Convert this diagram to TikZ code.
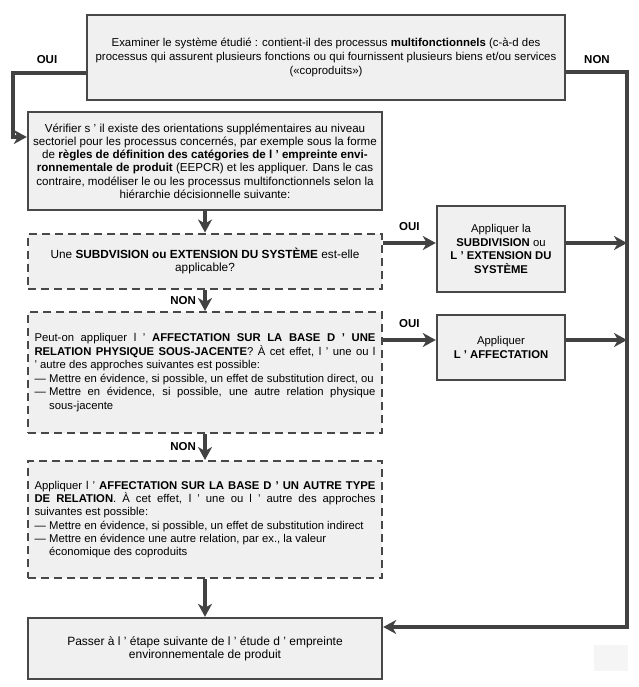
\documentclass[tikz,border=0pt]{standalone}
\usepackage{fontspec}
\setmainfont{Liberation Sans}
\usetikzlibrary{arrows.meta}
\definecolor{boxcolor}{RGB}{240,240,240}
\definecolor{edgecolor}{RGB}{72,72,72}
\definecolor{flowcolor}{RGB}{66,66,66}
\newcommand{\dashitem}[1]{\par\noindent\makebox[1.3em][l]{—}\parbox[t]{\dimexpr341pt-1.3em\relax}{#1}}

\begin{document}
\begin{tikzpicture}[x=1pt, y=-1pt,
    box/.style={rectangle, draw=edgecolor, line width=2.4pt, fill=boxcolor, inner sep=0pt, align=center, font=\fontsize{11.8}{13.4}\selectfont},
    dbox/.style={box, line width=2pt, dash pattern=on 8pt off 5pt, minimum width=354pt},
    arrow/.style={-{Stealth[length=13pt, width=14pt, inset=4pt]}, line width=3.6pt, draw=flowcolor},
    tag/.style={font=\fontsize{11.5}{12}\selectfont\bfseries}
]
\useasboundingbox (0,0) rectangle (638,687);
\fill[black!4] (594,645) rectangle (628,671);

\node[box, minimum width=478pt, minimum height=85pt, font=\fontsize{11.4}{13.6}\selectfont] (examine) at (326,57.5) {Examiner le système étudié : contient-il des processus \textbf{multifonctionnels} (c-à-d des\\processus qui assurent plusieurs fonctions ou qui fournissent plusieurs biens et/ou services\\(«coproduits»)};
\node[box, minimum width=354pt, minimum height=98pt, font=\fontsize{11.6}{13.2}\selectfont] (verify) at (205,161) {Vérifier s ' il existe des orientations supplémentaires au niveau\\sectoriel pour les processus concernés, par exemple sous la forme\\de \textbf{règles de définition des catégories de l ' empreinte envi-}\\\textbf{ronnementale de produit} (EEPCR) et les appliquer. Dans le cas\\contraire, modéliser le ou les processus multifonctionnels selon la\\hiérarchie décisionnelle suivante:};
\node[dbox, minimum height=55pt] (subdiv) at (205,261) {Une \textbf{SUBDVISION ou EXTENSION DU SYSTÈME} est-elle\\applicable?};
\node[dbox, minimum height=121pt, text width=341pt, align=justify, font=\fontsize{11.3}{13.6}\selectfont] (physrel) at (205,372.5) {Peut-on appliquer l ' \textbf{AFFECTATION SUR LA BASE D ' UNE}\linebreak\textbf{RELATION PHYSIQUE SOUS-JACENTE}? À cet effet, l ' une ou l\linebreak ' autre des approches suivantes est possible:
\dashitem{Mettre en évidence, si possible, un effet de substitution direct, ou}
\dashitem{Mettre en évidence, si possible, une autre relation physique\linebreak sous-jacente}};
\node[dbox, minimum height=117pt, text width=341pt, align=justify, font=\fontsize{11.3}{13.2}\selectfont] (otherrel) at (205,519.5) {Appliquer l ' \textbf{AFFECTATION SUR LA BASE D ' UN AUTRE TYPE}\linebreak\textbf{DE RELATION}. À cet effet, l ' une ou l ' autre des approches\linebreak suivantes est possible:
\dashitem{Mettre en évidence, si possible, un effet de substitution indirect}
\dashitem{Mettre en évidence une autre relation, par ex., la valeur\newline économique des coproduits}};
\node[box, minimum width=354pt, minimum height=61pt, font=\fontsize{12}{13.2}\selectfont] (next) at (205,648.5) {Passer à l ' étape suivante de l ' étude d ' empreinte\\environnementale de produit};
\node[box, minimum width=128pt, minimum height=86pt, font=\fontsize{11.3}{13.4}\selectfont] (applysub) at (501,249) {Appliquer la\\\textbf{SUBDIVISION} ou\\\textbf{L ' EXTENSION DU}\\\textbf{SYSTÈME}};
\node[box, minimum width=128pt, minimum height=65pt, font=\fontsize{11.3}{13.4}\selectfont] (applyaff) at (501,347.5) {Appliquer\\\textbf{L ' AFFECTATION}};

\coordinate (ouiA) at (13,73);
\coordinate (ouiB) at (13,137);
\coordinate (nonA) at (627,72);
\coordinate (nonB) at (627,627);
\coordinate (busA) at (627,243);
\coordinate (busB) at (627,340);

\draw[arrow] (examine.west |- ouiA) -- (ouiA) -- (ouiB) -- (verify.west |- ouiB);
\draw[arrow] (examine.east |- nonA) -- (nonA) -- (nonB) -- (next.east |- nonB);
\node[tag] (ouitop) at (47,60) {OUI};
\node[tag] (nontop) at (597,60) {NON};

\draw[arrow] (verify) -- (subdiv);
\draw[arrow] (subdiv) -- (physrel) node[midway, left=4pt, tag] {NON};
\draw[arrow] (physrel) -- (otherrel) node[midway, left=4pt, tag] {NON};
\draw[arrow] (otherrel) -- (next);

\draw[arrow] (subdiv.east |- busA) -- (applysub.west |- busA) node[midway, above=7pt, tag] {OUI};
\draw[arrow] (physrel.east |- busB) -- (applyaff.west |- busB) node[midway, above=7pt, tag] {OUI};
\draw[arrow] (applysub.east |- busA) -- (busA);
\draw[arrow] (applyaff.east |- busB) -- (busB);
\end{tikzpicture}
\end{document}
